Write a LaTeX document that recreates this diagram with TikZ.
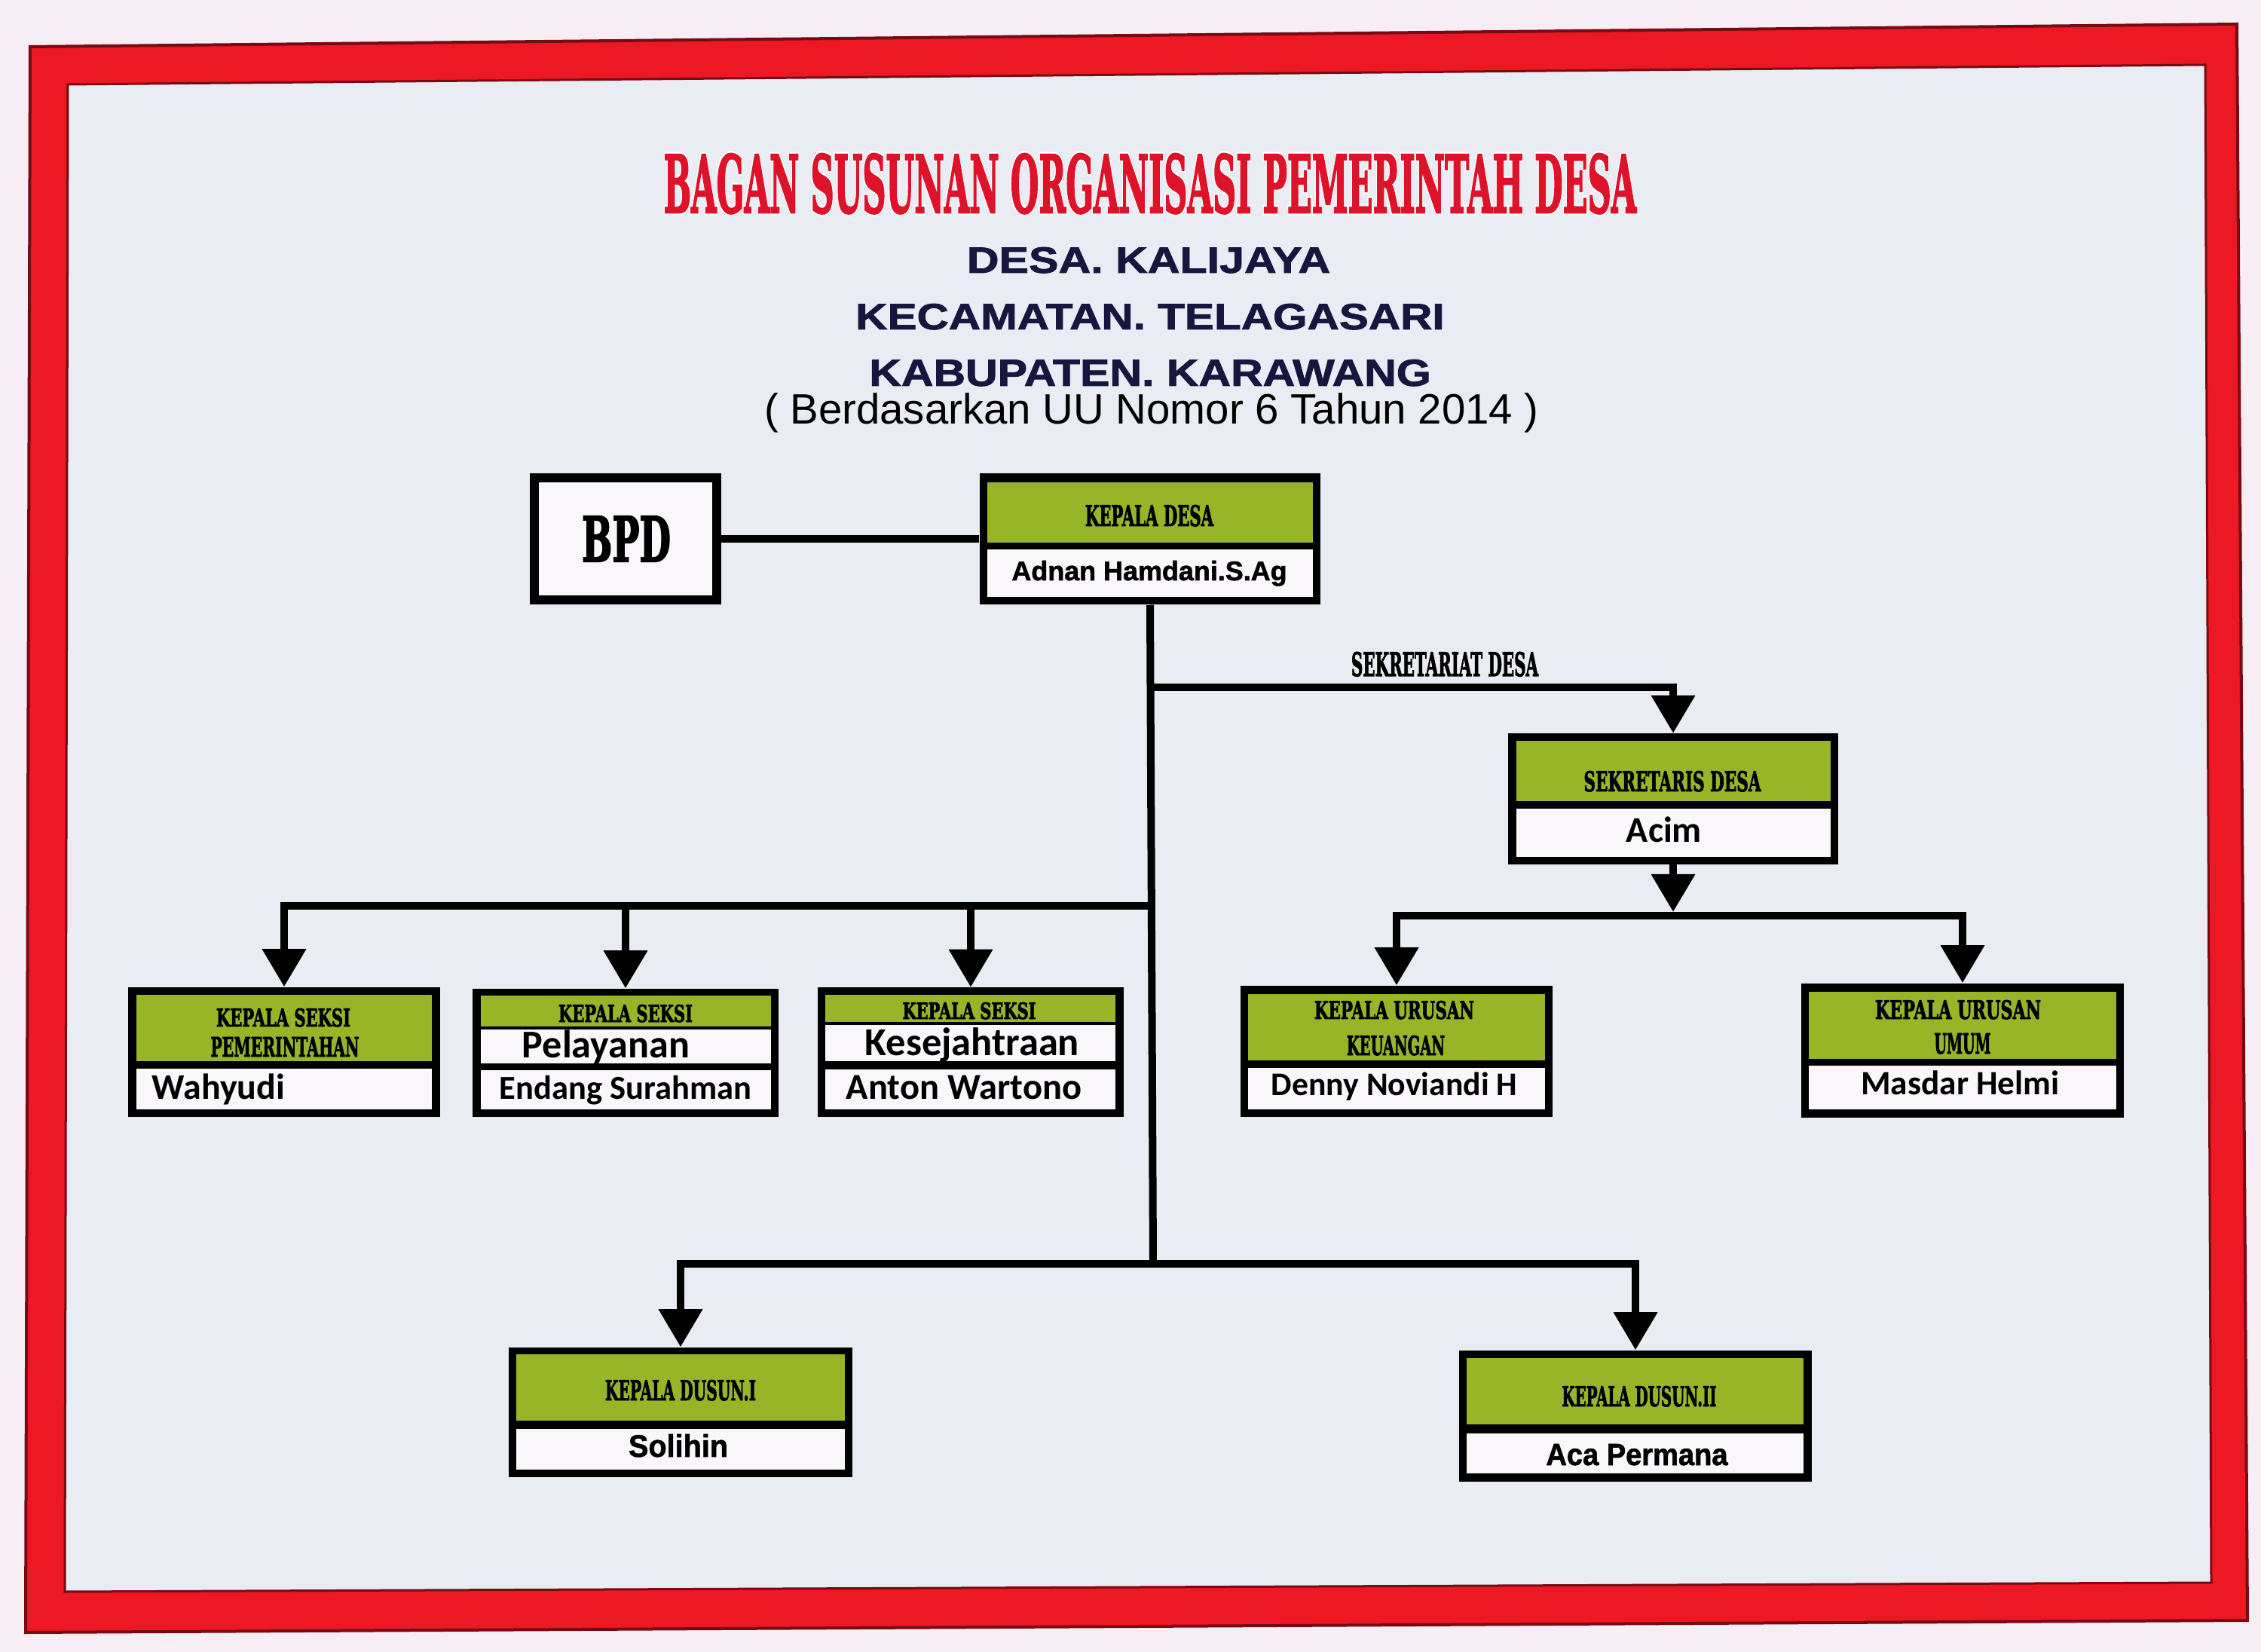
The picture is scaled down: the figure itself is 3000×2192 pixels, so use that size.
\documentclass[tikz,border=0pt]{standalone}
\usepackage{fontspec}
\usepackage{graphicx}
\usetikzlibrary{arrows.meta}
\newfontfamily\hdrfont{DejaVu Serif}[BoldFeatures={FakeBold=2.6}]
\newfontfamily\halofont{DejaVu Serif}[BoldFeatures={FakeBold=7}]
\newfontfamily\arialfont{Liberation Sans}[BoldFeatures={FakeBold=1.5}]
\newfontfamily\calfont{Carlito}
\definecolor{wallpink}{RGB}{246,238,244}
\definecolor{panelgrey}{RGB}{233,236,243}
\definecolor{framered}{RGB}{236,24,36}
\definecolor{framedark}{RGB}{120,10,20}
\definecolor{titlered}{RGB}{222,18,40}
\definecolor{boardgreen}{RGB}{152,181,40}
\definecolor{navy}{RGB}{22,22,62}
\definecolor{namewhite}{RGB}{250,247,250}

\tikzset{
  orgbox/.style={rectangle, fill=black, inner sep=0pt},
  conn/.style={line width=0.1cm, line join=miter},
  arr/.style={conn, -{Triangle[width=0.56cm,length=0.5cm]}},
  capt/.style={inner sep=0pt, anchor=base},
  hdr/.style={capt, font=\hdrfont\bfseries},
}

\begin{document}
\begin{tikzpicture}[x=0.01cm, y=-0.01cm]
        \useasboundingbox (0,0) rectangle (3000,2192);
        \fill[wallpink] (0,0) rectangle (3000,2192);
        % board
        \fill[framered, draw=framedark, line width=0.04cm] (40,62) -- (2968,32) -- (2982,2150) -- (34,2166) -- cycle;
        \fill[panelgrey, draw=framedark, line width=0.03cm] (90,112) -- (2926,86) -- (2934,2100) -- (86,2112) -- cycle;

        % heading
        \node[capt, text=white, font=\halofont\bfseries] (titlehalo) at (1526,282) {\resizebox{12.9cm}{0.78cm}{BAGAN SUSUNAN ORGANISASI PEMERINTAH DESA}};
        \node[hdr, text=titlered] (title) at (1526,282) {\resizebox{12.9cm}{0.78cm}{BAGAN SUSUNAN ORGANISASI PEMERINTAH DESA}};
        \node[capt, text=navy, font=\arialfont\bfseries] (desa) at (1524,362) {\resizebox{4.82cm}{0.34cm}{DESA. KALIJAYA}};
        \node[capt, text=navy, font=\arialfont\bfseries] (kec) at (1526,437) {\resizebox{7.81cm}{0.34cm}{KECAMATAN. TELAGASARI}};
        \node[capt, text=navy, font=\arialfont\bfseries] (kab) at (1526,512) {\resizebox{7.45cm}{0.35cm}{KABUPATEN. KARAWANG}};
        \node[capt, font=\arialfont] (uu) at (1528,563) {\resizebox{10.27cm}{!}{( Berdasarkan UU Nomor 6 Tahun 2014 )}};

        % boxes
        \node[rectangle, draw=black, fill=namewhite, line width=0.12cm, minimum width=2.42cm, minimum height=1.62cm, inner sep=0pt] (bpd) at (830,715) {};
        \node[hdr] (bpdtxt) at (831,745) {\resizebox{1.18cm}{0.6cm}{BPD}};

        \node[orgbox, minimum width=4.52cm, minimum height=1.74cm] (kades) at (1526,715) {};
        \fill[boardgreen] (1310,640) rectangle (1742,720);
        \fill[namewhite] (1310,729) rectangle (1742,792);
        \node[hdr] (kadestxt) at (1525,698) {\resizebox{1.70cm}{0.28cm}{KEPALA DESA}};
        \node[capt, font=\arialfont\bfseries] (kadesname) at (1525,770) {\resizebox{3.65cm}{!}{Adnan Hamdani.S.Ag}};

        \node[orgbox, minimum width=4.37cm, minimum height=1.73cm] (sekdes) at (2220,1060) {};
        \fill[boardgreen] (2012,983) rectangle (2429,1063);
        \fill[namewhite] (2012,1073) rectangle (2429,1137);
        \node[hdr] (sekdestxt) at (2219,1050) {\resizebox{2.35cm}{0.27cm}{SEKRETARIS DESA}};
        \node[capt, font=\calfont\bfseries] (sekdesname) at (2208,1118) {\resizebox{1.0cm}{!}{Acim}};
        \node[hdr] (sektxt) at (1917,897) {\resizebox{2.48cm}{0.32cm}{SEKRETARIAT DESA}};

        \node[orgbox, minimum width=4.14cm, minimum height=1.72cm] (kasi1) at (377,1396) {};
        \fill[boardgreen] (181,1320) rectangle (573,1408);
        \fill[namewhite] (181,1418) rectangle (573,1472);
        \node[hdr] (kasi1a) at (376,1362) {\resizebox{1.78cm}{0.24cm}{KEPALA SEKSI}};
        \node[hdr] (kasi1b) at (378,1402) {\resizebox{1.97cm}{0.26cm}{PEMERINTAHAN}};
        \node[capt, font=\calfont\bfseries] (kasi1name) at (290,1458) {\resizebox{1.76cm}{!}{Wahyudi}};

        \node[orgbox, minimum width=4.05cm, minimum height=1.70cm] (kasi2) at (830,1397) {};
        \fill[boardgreen] (638,1321) rectangle (1023,1362);
        \fill[namewhite] (638,1366) rectangle (1023,1411);
        \fill[namewhite] (638,1420) rectangle (1023,1472);
        \node[hdr] (kasi2a) at (830,1356) {\resizebox{1.78cm}{0.23cm}{KEPALA SEKSI}};
        \node[capt, font=\calfont\bfseries] (kasi2b) at (804,1403) {\resizebox{2.22cm}{!}{Pelayanan}};
        \node[capt, font=\calfont\bfseries] (kasi2name) at (830,1458) {\resizebox{3.34cm}{!}{Endang Surahman}};

        \node[orgbox, minimum width=4.05cm, minimum height=1.71cm] (kasi3) at (1288,1396) {};
        \fill[boardgreen] (1095,1320) rectangle (1480,1356);
        \fill[namewhite] (1095,1360) rectangle (1480,1408);
        \fill[namewhite] (1095,1419) rectangle (1480,1472);
        \node[hdr] (kasi3a) at (1286,1352) {\resizebox{1.77cm}{0.22cm}{KEPALA SEKSI}};
        \node[capt, font=\calfont\bfseries] (kasi3b) at (1290,1400) {\resizebox{2.84cm}{!}{Kesejahtraan}};
        \node[capt, font=\calfont\bfseries] (kasi3name) at (1279,1458) {\resizebox{3.12cm}{!}{Anton Wartono}};

        \node[orgbox, minimum width=4.14cm, minimum height=1.74cm] (kaur1) at (1853,1395) {};
        \fill[boardgreen] (1656,1319) rectangle (2050,1407);
        \fill[namewhite] (1656,1417) rectangle (2050,1472);
        \node[hdr] (kaur1a) at (1850,1352) {\resizebox{2.12cm}{0.24cm}{KEPALA URUSAN}};
        \node[hdr] (kaur1b) at (1852,1400) {\resizebox{1.30cm}{0.26cm}{KEUANGAN}};
        \node[capt, font=\calfont\bfseries] (kaur1name) at (1850,1453) {\resizebox{3.26cm}{!}{Denny Noviandi H}};

        \node[orgbox, minimum width=4.28cm, minimum height=1.78cm] (kaur2) at (2604,1394) {};
        \fill[boardgreen] (2400,1316) rectangle (2808,1405);
        \fill[namewhite] (2400,1414) rectangle (2808,1472);
        \node[hdr] (kaur2a) at (2598,1352) {\resizebox{2.20cm}{0.25cm}{KEPALA URUSAN}};
        \node[hdr] (kaur2b) at (2604,1398) {\resizebox{0.75cm}{0.27cm}{UMUM}};
        \node[capt, font=\calfont\bfseries] (kaur2name) at (2601,1452) {\resizebox{2.63cm}{!}{Masdar Helmi}};

        \node[orgbox, minimum width=4.56cm, minimum height=1.72cm] (dusun1) at (903,1874) {};
        \fill[boardgreen] (685,1797) rectangle (1121,1885);
        \fill[namewhite] (685,1896) rectangle (1121,1950);
        \node[hdr] (dusun1a) at (903,1858) {\resizebox{2.0cm}{0.27cm}{KEPALA DUSUN.I}};
        \node[capt, font=\arialfont\bfseries] (dusun1name) at (900,1933) {\resizebox{1.32cm}{0.3cm}{Solihin}};

        \node[orgbox, minimum width=4.67cm, minimum height=1.74cm] (dusun2) at (2170,1879) {};
        \fill[boardgreen] (1946,1802) rectangle (2393,1890);
        \fill[namewhite] (1946,1902) rectangle (2393,1955);
        \node[hdr] (dusun2a) at (2175,1866) {\resizebox{2.05cm}{0.27cm}{KEPALA DUSUN.II}};
        \node[capt, font=\arialfont\bfseries] (dusun2name) at (2172,1944) {\resizebox{2.41cm}{0.28cm}{Aca Permana}};

        % connectors
        \coordinate (sekj) at (1530,912);
        \coordinate (kasij) at (1530,1202);
        \coordinate (dusj) at (1530,1677);
        \coordinate (kaurj) at (2220,1210);
        \draw[conn] (bpd.east) -- (kades.west);
        \draw[conn] (kades.south) -- (dusj);
        \draw[arr] (sekj) -| (sekdes.north);
        \draw[arr] (sekdes.south) -- (kaurj);
        \draw[arr] ([yshift=-0.05cm]kaurj) -| (kaur1.north);
        \draw[arr] ([yshift=-0.05cm]kaurj) -| (kaur2.north);
        \draw[arr] (kasij) -| (kasi1.north);
        \draw[arr] (kasij) -| (kasi2.north);
        \draw[arr] (kasij) -| (kasi3.north);
        \draw[arr] (dusj) -| (dusun1.north);
        \draw[arr] (dusj) -| (dusun2.north);
    \end{tikzpicture}
\end{document}
